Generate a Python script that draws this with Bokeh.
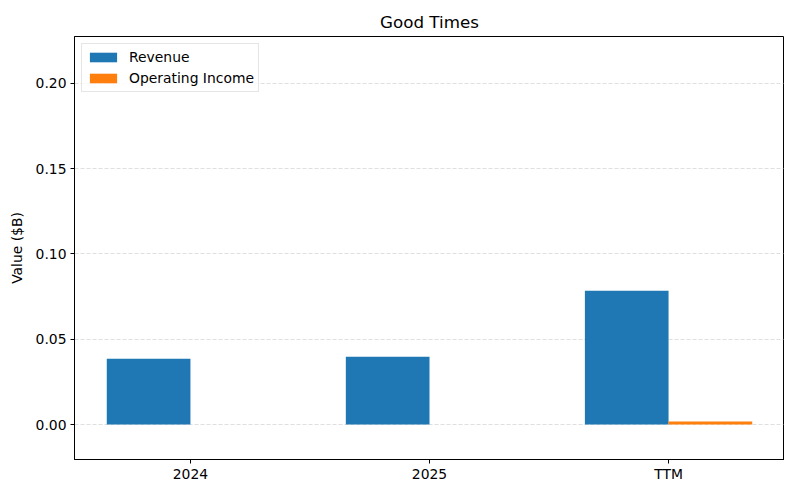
from bokeh.plotting import figure
from bokeh.models import FixedTicker, NumeralTickFormatter, Range1d, ColumnDataSource, Legend, LegendItem
from bokeh.embed import file_html
from bokeh.resources import INLINE

categories = ["2024", "2025", "TTM"]
revenue = [0.0386, 0.0398, 0.0784]
operating_income = [0.0, 0.0, 0.0018]
y_ticks = [0.0, 0.05, 0.10, 0.15, 0.20]

bar_w = 0.35
idx = list(range(len(categories)))

p = figure(width=784, height=484, output_backend="svg", toolbar_location=None,
           x_range=Range1d(-0.485, 2.485), y_range=Range1d(-0.0205, 0.2275),
           min_border_left=74, min_border_right=0, min_border_top=36, min_border_bottom=22)

src_r = ColumnDataSource(dict(x=[i - bar_w / 2 for i in idx], top=revenue))
src_o = ColumnDataSource(dict(x=[i + bar_w / 2 for i in idx], top=operating_income))
r1 = p.vbar(x="x", top="top", bottom=0, width=bar_w, source=src_r, fill_color="#1f77b4", line_color=None)
r2 = p.vbar(x="x", top="top", bottom=0, width=bar_w, source=src_o, fill_color="#ff7f0e", line_color=None)

font = "DejaVu Sans"
small = "13.9px"
p.title.text = "Good Times"
p.title.align = "center"
p.title.text_font = font
p.title.text_font_size = "16.7px"
p.title.text_font_style = "normal"
p.title.text_color = "black"

p.xaxis.ticker = FixedTicker(ticks=idx)
p.xaxis.major_label_overrides = {i: c for i, c in zip(idx, categories)}
p.yaxis.ticker = FixedTicker(ticks=y_ticks)
p.yaxis.formatter = NumeralTickFormatter(format="0.00")
p.yaxis.axis_label = "Value ($B)"
p.yaxis.axis_label_text_font_style = "normal"
p.yaxis.axis_label_text_font = font
p.yaxis.axis_label_text_font_size = small
p.yaxis.axis_label_text_color = "black"
p.yaxis.axis_label_standoff = 8

for ax in (p.xaxis, p.yaxis):
    ax.major_label_text_font = font
    ax.major_label_text_font_size = small
    ax.major_label_text_color = "black"
    ax.axis_line_color = "black"
    ax.major_tick_line_color = "black"
    ax.major_tick_out = 4
    ax.major_tick_in = 0
    ax.minor_tick_line_color = None
p.yaxis.major_label_standoff = 4
p.xaxis.major_label_standoff = 2

p.xgrid.grid_line_color = None
p.ygrid.grid_line_color = "#b0b0b0"
p.ygrid.grid_line_alpha = 0.5
p.ygrid.grid_line_dash = "4 2"
p.ygrid.grid_line_width = 0.8

p.outline_line_color = "black"
p.outline_line_alpha = 1.0
p.outline_line_width = 1
p.background_fill_color = "white"
p.border_fill_color = "white"

legend = Legend(items=[LegendItem(label="Revenue", renderers=[r1]),
                       LegendItem(label="Operating Income", renderers=[r2])],
                location="top_left")
legend.margin = 7
legend.padding = 4
legend.spacing = 3
legend.label_height = 18
legend.glyph_height = 12
legend.glyph_width = 34
legend.label_standoff = 9
legend.label_text_font = font
legend.label_text_font_size = small
legend.label_text_color = "black"
legend.border_line_color = "#cccccc"
legend.border_line_width = 1
legend.background_fill_alpha = 0.8
p.add_layout(legend)

open("out.html", "w").write(file_html(p, INLINE))
